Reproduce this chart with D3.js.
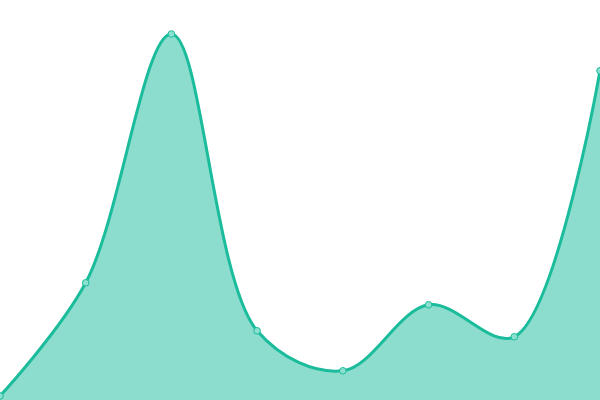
<!DOCTYPE html>
<html><head><meta charset="utf-8">
<script src="https://cdn.jsdelivr.net/npm/d3@7"></script>
<style>body{margin:0;background:#fff}svg{display:block}</style>
</head><body>
<svg id="c" width="600" height="400"></svg>
<script>
const categories = ["A","B","C","D","E","F","G","H"];
const values = [1, 29.3, 91.5, 17.3, 7.3, 23.8, 15.8, 82.3];

const W = 600, H = 400;
const svg = d3.select("#c");
const x = d3.scalePoint().domain(categories).range([0, W]);
const y = d3.scaleLinear().domain([0, 100]).range([H, 0]);
const data = categories.map((c, i) => ({c, v: values[i]}));
const curve = d3.curveCatmullRom.alpha(0.5);

svg.append("path").datum(data)
  .attr("d", d3.area().x(d => x(d.c)).y0(H).y1(d => y(d.v)).curve(curve))
  .attr("fill", "#1abc9c").attr("fill-opacity", 0.5);
svg.append("path").datum(data)
  .attr("d", d3.line().x(d => x(d.c)).y(d => y(d.v)).curve(curve))
  .attr("fill", "none").attr("stroke", "#1abc9c").attr("stroke-width", 3);
svg.selectAll("circle").data(data).join("circle")
  .attr("cx", d => x(d.c)).attr("cy", d => y(d.v)).attr("r", 3.3)
  .attr("fill", "#8ce0cf").attr("stroke", "#1abc9c").attr("stroke-width", 1);
</script>
</body></html>
